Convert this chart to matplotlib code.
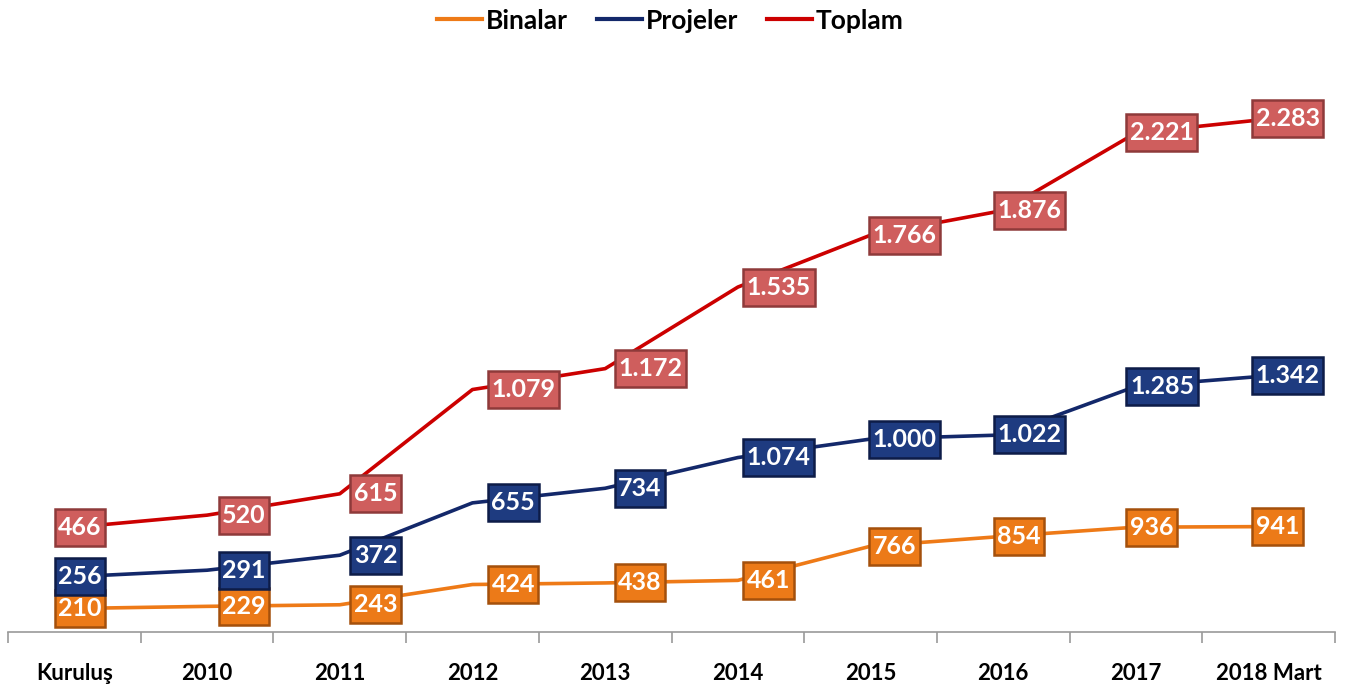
import matplotlib.pyplot as plt
from matplotlib.lines import Line2D
from matplotlib.path import Path

plt.rcParams['font.family'] = ['Lato', 'DejaVu Sans']
plt.rcParams['font.weight'] = 'bold'

# data
categories = ["Kuruluş", "2010", "2011", "2012", "2013", "2014", "2015", "2016", "2017", "2018 Mart"]
binalar = [210, 229, 243, 424, 438, 461, 766, 854, 936, 941]
projeler = [256, 291, 372, 655, 734, 1074, 1000, 1022, 1285, 1342]
toplam = [466, 520, 615, 1079, 1172, 1535, 1766, 1876, 2221, 2283]
# in the source the 2014 Projeler point is drawn below 2015 (label says 1.074),
# so the drawn height is kept separately
projeler_drawn = [256, 291, 372, 655, 734, 900, 1000, 1022, 1285, 1342]

# label left edge offset from the point, in pixels (labels were hand placed)
label_dx = [-20, 11, 10, 15, 9, 5, -2, -10, -10, -17]


def tall_box(x0, y0, width, height, mutation_size):
    # rectangle with more padding top/bottom than left/right
    px = 0.14 * mutation_size
    py = 0.28 * mutation_size
    x1, y1 = x0 + width + px, y0 + height + py
    x0, y0 = x0 - px, y0 - py
    return Path([(x0, y0), (x1, y0), (x1, y1), (x0, y1), (x0, y0)], closed=True)


W, H = 1349, 684
fig = plt.figure(figsize=(W / 100, H / 100), dpi=100)
ax = fig.add_axes([8 / W, 52 / H, 1327 / W, 582 / H])
ax2 = ax.twinx()
ax3 = ax.twinx()

series = [
    # axis, drawn values, labels, line colour, box face, box edge, ylim, name
    (ax, binalar, binalar, '#EE7A17', '#EC7A18', '#A4500C', (0, 5196), 'Binalar'),
    (ax2, projeler_drawn, projeler, '#13286A', '#1E3B80', '#0D1C48', (-43, 3103), 'Projeler'),
    (ax3, toplam, toplam, '#CC0000', '#CF5E5D', '#8E3A3A', (0, 2590), 'Toplam'),
]

x = list(range(len(categories)))
for a, vals, labs, lc, fc, ec, ylim, name in series:
    a.plot(x, vals, color=lc, lw=2.6, solid_capstyle='round', solid_joinstyle='round', zorder=2)
    a.set_ylim(*ylim)
    a.set_xlim(-0.5, len(categories) - 0.5)

for a in (ax2, ax3):
    a.set_yticks([])
    for s in a.spines.values():
        s.set_visible(False)

# x axis styling
ax.set_yticks([])
for s in ('top', 'left', 'right'):
    ax.spines[s].set_visible(False)
ax.spines['bottom'].set_color('#9a9a9a')
ax.spines['bottom'].set_linewidth(1.2)
ax.set_xticks(x)
ax.set_xticklabels(categories, fontsize=16, fontweight='bold', color='black')
ax.tick_params(axis='x', which='major', length=0, pad=22)
ax.set_xticks([i - 0.5 for i in range(len(categories) + 1)], minor=True)
ax.tick_params(axis='x', which='minor', length=8, width=1.2, color='#9a9a9a', direction='out')

# labels, all drawn on the top axes so lines stay under the boxes
for a, vals, labs, lc, fc, ec, ylim, name in series:
    for i, v in enumerate(vals):
        txt = f"{labs[i]:,}".replace(",", ".")
        ax3.annotate(txt, (i, v), xycoords=a.transData,
                     xytext=(label_dx[i] + 4, 0), textcoords='offset pixels',
                     ha='left', va='center', fontsize=18, fontweight='bold',
                     color='white', zorder=5,
                     bbox=dict(boxstyle=tall_box, fc=fc, ec=ec, lw=1.8))

handles = [Line2D([], [], color=s[3], lw=3) for s in series]
fig.legend(handles, [s[7] for s in series], loc='upper center',
           bbox_to_anchor=(0.497, 1.022), ncol=3, frameon=False,
           prop=dict(family='Lato', weight='bold', size=19),
           handlelength=1.7, handletextpad=0.15, columnspacing=1.1)

fig.savefig('out.png', dpi=100)
